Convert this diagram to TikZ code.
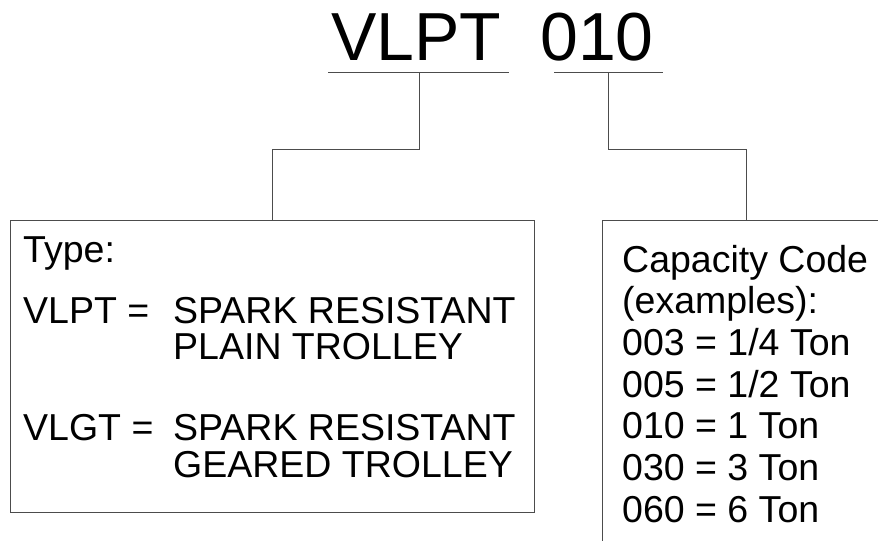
\documentclass[tikz,border=0pt]{standalone}
\usepackage{fontspec}
\setmainfont{Liberation Sans}
\begin{document}
\begin{tikzpicture}[x=1pt,y=-1pt,
  rule/.style={draw=black!70,line width=0.9pt},
  body/.style={font=\fontsize{37.5}{42}\selectfont, inner sep=0pt, anchor=base west},
  bigtitle/.style={font=\fontsize{68}{70}\selectfont, inner sep=0pt, anchor=base west}]
\useasboundingbox (0,0) rectangle (878,541);

% model code
\node[bigtitle] (model) at (331,60) {VLPT};
\node[bigtitle] (cap) at (540,60) {010};
\coordinate (u1l) at (328,72);
\coordinate (u1r) at (509,72);
\coordinate (u2l) at (554,72);
\coordinate (u2r) at (663,72);
\draw[rule] (u1l) -- (u1r);
\draw[rule] (u2l) -- (u2r);
\coordinate (u1) at (419,72);
\coordinate (u2) at (608,72);

% type box
\node[rule, minimum width=524pt, minimum height=292pt, inner sep=0pt] (typebox) at (272,366) {};
\node[body] (typehead) at (23,262) {Type:};
\node[body] (vlpt) at (23,323) {VLPT =};
\node[body] (vlptA) at (173,323) {SPARK RESISTANT};
\node[body] (vlptB) at (173,359) {PLAIN TROLLEY};
\node[body] (vlgt) at (23,440) {VLGT =};
\node[body] (vlgtA) at (173,440) {SPARK RESISTANT};
\node[body] (vlgtB) at (173,477) {GEARED TROLLEY};

% capacity box (runs off the sheet)
\coordinate (capne) at (878,220);
\coordinate (capnw) at (602,220);
\coordinate (capsw) at (602,541);
\coordinate (captop) at (746,220);
\draw[rule] (capne) -- (capnw) -- (capsw);
\node[body] (caphead) at (622,272) {Capacity Code};
\node[body] (capex) at (622,313) {(examples):};
\node[body] (c003) at (622,355) {003 = 1/4 Ton};
\node[body] (c005) at (622,397) {005 = 1/2 Ton};
\node[body] (c010) at (622,438) {010 = 1 Ton};
\node[body] (c030) at (622,480) {030 = 3 Ton};
\node[body] (c060) at (622,522) {060 = 6 Ton};

% leaders
\coordinate (k1) at (272,149);
\coordinate (k2) at (746,149);
\draw[rule] (u1) |- (k1) -- (typebox.north);
\draw[rule] (u2) |- (k2) -- (captop);
\end{tikzpicture}
\end{document}
